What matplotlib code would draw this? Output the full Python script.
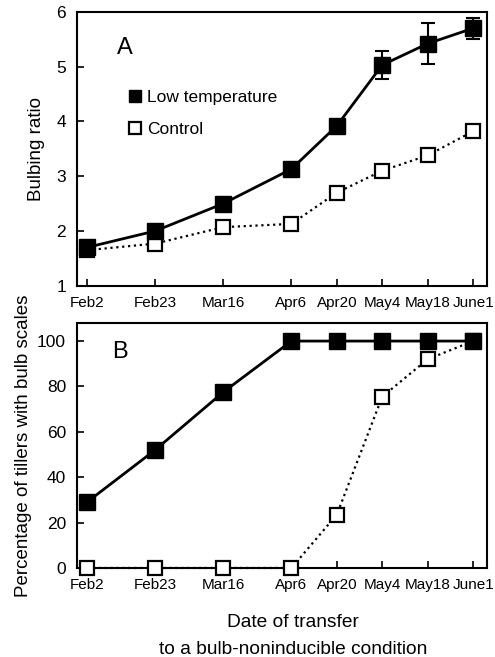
import matplotlib
matplotlib.use("Agg")
import matplotlib.pyplot as plt

plt.rcParams['font.family'] = ['Liberation Sans', 'DejaVu Sans']

# transfer dates as day of year
days = [33, 54, 75, 96, 110, 124, 138, 152]
date_labels = ["Feb2", "Feb23", "Mar16", "Apr6", "Apr20", "May4", "May18", "June1"]

# panel A: bulbing ratio
ratio_low = [1.70, 2.00, 2.50, 3.13, 3.92, 5.03, 5.42, 5.70]
ratio_low_err = [0, 0, 0, 0, 0, 0.26, 0.37, 0.19]
ratio_ctrl = [1.65, 1.77, 2.07, 2.13, 2.70, 3.10, 3.38, 3.82]

# panel B: percentage of tillers with bulb scales
pct_low = [29, 52, 77.5, 100, 100, 100, 100, 100]
pct_ctrl = [0, 0, 0, 0, 23.5, 75.5, 92, 100]

fig = plt.figure(figsize=(4.95, 6.57), dpi=100)
ax1 = fig.add_axes([0.156, 0.565, 0.828, 0.417])
ax2 = fig.add_axes([0.156, 0.1355, 0.828, 0.373])


def style(ax):
    for s in ax.spines.values():
        s.set_linewidth(1.5)
    ax.tick_params(axis="both", direction="in", width=1.2, length=5)
    ax.tick_params(axis="y", labelsize=12.5, pad=8)
    ax.tick_params(axis="x", pad=7)
    ax.set_xlim(30, 156.3)
    ax.set_xticks(days)
    ax.set_xticklabels(date_labels, family=["Liberation Sans Narrow", "Liberation Sans"],
                       fontsize=11)


# A
ax1.plot(days, ratio_ctrl, ls=":", lw=1.6, color="black", marker="s", ms=9.5,
         mfc="white", mec="black", mew=1.6, zorder=3, label="Control")
ax1.errorbar(days, ratio_low, yerr=ratio_low_err, fmt="-s", lw=2, color="black",
             ms=11, capsize=5, elinewidth=1.5, capthick=1.5, zorder=4,
             label="Low temperature")
ax1.set_ylim(1, 6)
ax1.set_yticks([1, 2, 3, 4, 5, 6])
ax1.set_ylabel("Bulbing ratio", fontsize=13.5, labelpad=8)
style(ax1)
ax1.text(0.098, 0.845, "A", transform=ax1.transAxes, fontsize=17)
h, l = ax1.get_legend_handles_labels()
ax1.legend([h[1][0], h[0]], ["Low temperature", "Control"], loc="upper left",
           bbox_to_anchor=(0.124, 0.74), frameon=False, fontsize=12.5,
           handlelength=0, handletextpad=0.7, labelspacing=0.95,
           borderaxespad=0)
leg = ax1.get_legend()
for lh in leg.legend_handles:
    lh.set_linestyle("none")
    lh.set_markersize(9)

# B
ax2.plot(days, pct_ctrl, ls=":", lw=1.6, color="black", marker="s", ms=9.5,
         mfc="white", mec="black", mew=1.6, zorder=3, clip_on=False)
ax2.plot(days, pct_low, "-s", lw=2, color="black", ms=11, zorder=4, clip_on=False)
ax2.set_ylim(0, 108)
ax2.set_yticks([0, 20, 40, 60, 80, 100])
ax2.set_ylabel("Percentage of tillers with bulb scales", fontsize=13.5, labelpad=4)
style(ax2)
ax2.text(0.085, 0.855, "B", transform=ax2.transAxes, fontsize=17)

fig.text(0.592, 0.045, "Date of transfer", ha="center", fontsize=13.8)
fig.text(0.592, 0.005, "to a bulb-noninducible condition", ha="center", fontsize=13.8)

fig.savefig("out.png", dpi=100)
